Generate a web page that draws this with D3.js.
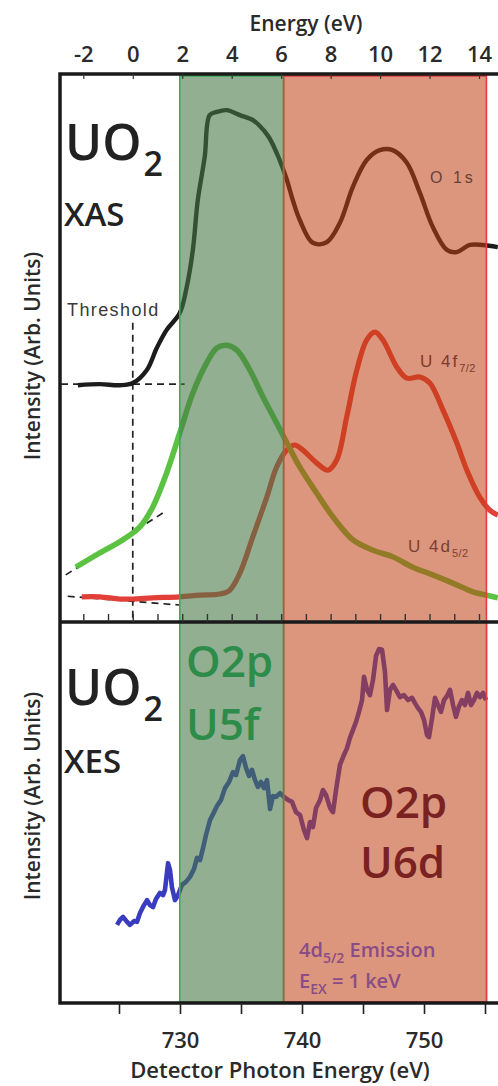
<!DOCTYPE html>
<html>
<head>
<meta charset="utf-8">
<script src="https://cdn.jsdelivr.net/npm/d3@7"></script>
<style>
  body { margin: 0; background: #fff; }
  svg { display: block; }
  .lbl { font-family: "Open Sans", sans-serif; font-weight: 600; }
  .small { font-family: "Liberation Sans", Arial, sans-serif; }
</style>
</head>
<body>
<svg width="498" height="1086"></svg>
<script>
// ---- data (top panel: incident energy in eV vs intensity, arb. units 0-100) ----
var o1sE   = [-2.22,-1.33,-0.53,0,0.57,0.97,1.37,1.9,2.18,2.43,2.63,2.91,3.11,3.4,3.8,4.33,4.85,5.1,5.5,5.94,6.23,6.47,6.75,7.28,7.84,8.37,8.9,9.46,9.99,10.51,11.08,11.61,12.13,12.7,13.1,13.63,14.15,14.76];
var o1sI   = [43.2,43.4,43.2,43.6,46,50,53.3,56.4,61.1,67.9,77,84.9,92.5,93.1,93.4,92.5,91.6,90.7,88.5,84.3,80.7,77,73.4,69.2,69.3,72.8,79.4,84.3,86.1,86.1,83.8,78.3,72.1,67.9,67.5,68.8,68.8,68.4];

var u4dE   = [-2.3,-1.33,-0.4,0.28,0.81,1.37,1.9,2.43,2.99,3.4,3.8,4.21,4.73,5.26,5.82,6.23,6.75,7.44,8.09,8.9,9.71,10.51,11.32,12.13,12.94,13.75,14.31,14.76];
var u4dI   = [10,12.6,15,17.3,21,27.2,34.5,41.8,47.3,50,50.5,49.6,46,41.1,36.3,32.7,28.3,23.5,19.2,15,13.1,11.9,10,8.6,7.1,5.5,4.9,4.4];

var u4fE   = [-2.06,-1.33,-0.53,0,0.81,1.9,2.71,3.52,3.92,4.33,4.85,5.42,5.82,6.23,6.55,6.87,7.44,7.89,8.25,8.65,9.06,9.46,9.79,10.11,10.68,11.08,11.61,12.01,12.54,13.1,13.51,14.03,14.44,14.76];
var u4fI   = [4.6,4.6,4.2,4.2,4.4,4.6,4.9,5.1,5.8,8.9,15.5,22.8,28.3,31.4,32.3,31.4,29,27.7,29.6,37.4,46,51.5,52.9,51.5,46.5,44.5,44.7,43.6,38.7,32.7,27.7,22.8,20.4,19.5];

// threshold construction lines [E1, I1, E2, I2]
var guideLines = [
  [0, 54.6, 0, 0],
  [-2.9, 43.4, 2.1, 43.4],
  [-2.71, 8.6, 1.29, 20.1],
  [-2.63, 4.7, 1.9, 3.1]
];

// ---- data (bottom panel: XES, detector photon energy in eV vs intensity 0-100) ----
var xesE = [724.84,725.08,725.33,725.66,725.9,726.23,726.48,726.72,727.05,727.3,727.54,727.79,728.03,728.36,728.61,728.77,729.02,729.18,729.34,729.59,729.84,730.16,730.49,730.82,731.15,731.39,731.64,731.89,732.13,732.46,732.79,733.03,733.36,733.69,734.02,734.34,734.59,734.92,735.16,735.41,735.66,735.9,736.15,736.39,736.64,736.89,737.13,737.38,737.62,737.87,738.2,738.52,738.85,739.18,739.51,739.84,740.16,740.41,740.66,740.9,741.15,741.48,741.72,741.97,742.3,742.54,742.79,743.11,743.44,743.69,743.93,744.18,744.43,744.67,744.92,745.08,745.33,745.57,745.82,746.07,746.31,746.56,746.8,746.97,747.21,747.46,747.7,748.03,748.36,748.69,749.02,749.26,749.51,749.75,750,750.25,750.41,750.66,750.9,751.15,751.39,751.64,751.89,752.13,752.38,752.62,752.87,753.11,753.36,753.61,753.85,754.1,754.34,754.59,754.84,755.08];
var xesI = [20.5,21.8,22.6,21.3,20.5,21.5,21.3,23.6,25.7,27,25.7,25.2,27.3,28.9,28.3,29.7,36.7,34.9,30.4,27,28.3,31,31.8,33.1,35.2,38.1,37.5,40.7,44.1,48,50.1,51.7,53.3,56.4,58,60.6,59.8,63.8,64.8,61.7,59.6,61.2,58.5,56.7,58,56.4,58.5,50.9,54.3,54.1,55.1,54.1,53.3,52.8,50.1,49.3,45.4,43.3,47.5,46.2,51.2,53.3,55.9,54.6,51.2,50.1,55.9,62.5,65.1,66.9,69.6,71.7,73.8,76.4,79.5,85.6,82.2,80.8,84.8,91.1,92.9,92.7,86.9,76.9,82.2,83.5,82.2,80.3,80.8,79.5,80.1,78.7,77.4,76.4,74.3,70.3,69.8,74.8,80.1,78.2,76.4,79.5,80.6,82.2,78.2,75.1,77.9,79.5,78.2,81.4,78.2,79.5,81.4,80.3,81.4,79.5];

// shaded regions (edges): incident energy (top) and detector energy (bottom)
var bandEdgesTop = [1.9, 6.1, 14.3];
var bandEdgesBottom = [730, 738.6, 755.2];

var topTicks = [-2, 0, 2, 4, 6, 8, 10, 12, 14];
var bottomTicks = [725, 730, 735, 740, 745, 750, 755];
var bottomLabels = [730, 740, 750];

// ---- layout ----
var left = 60, right = 500, top1 = 74, bot1 = 622, bot2 = 1003;

var svg = d3.select("svg");

var xTop = d3.scaleLinear().domain([-2, 14]).range([83.3, 479]);
var yTop = d3.scaleLinear().domain([0, 100]).range([bot1, top1]);
var xBot = d3.scaleLinear().domain([730, 750]).range([180, 424]);
var yBot = d3.scaleLinear().domain([0, 100]).range([bot2, bot1]);

var lineTop = d3.line().x(function(d) { return xTop(d[0]); }).y(function(d) { return yTop(d[1]); }).curve(d3.curveCatmullRom.alpha(0.5));
var lineBot = d3.line().x(function(d) { return xBot(d[0]); }).y(function(d) { return yBot(d[1]); });

function zip(a, b) { return a.map(function(v, i) { return [v, b[i]]; }); }

// guide dashed lines
svg.append("g").selectAll("line")
  .data(guideLines).enter().append("line")
    .attr("x1", function(d) { return xTop(d[0]); })
    .attr("y1", function(d) { return yTop(d[1]); })
    .attr("x2", function(d) { return xTop(d[2]); })
    .attr("y2", function(d) { return yTop(d[3]); })
    .attr("stroke", "#222")
    .attr("stroke-width", 1.7)
    .attr("stroke-dasharray", "7,5");

// curves (drawn below the translucent bands)
svg.append("path").datum(zip(u4fE, u4fI)).attr("d", lineTop)
  .attr("fill", "none").attr("stroke", "#e23f38").attr("stroke-width", 5.2);
svg.append("path").datum(zip(u4dE, u4dI)).attr("d", lineTop)
  .attr("fill", "none").attr("stroke", "#5cc242").attr("stroke-width", 5.6);
svg.append("path").datum(zip(o1sE, o1sI)).attr("d", lineTop)
  .attr("fill", "none").attr("stroke", "#1c1c1c").attr("stroke-width", 4.4);
svg.append("path").datum(zip(xesE, xesI)).attr("d", lineBot)
  .attr("fill", "none").attr("stroke", "#3a3cc0").attr("stroke-width", 4.6)
  .attr("stroke-linejoin", "round");

// translucent bands
var bandStyle = [
  { fill: "rgb(69,119,69)", op: 0.59, stroke: "#3caa5a" },
  { fill: "rgb(191,64,19)", op: 0.55, stroke: "#e63c3c" }
];
[0, 1].forEach(function(i) {
  svg.append("rect")
    .attr("x", xTop(bandEdgesTop[i])).attr("y", top1)
    .attr("width", xTop(bandEdgesTop[i + 1]) - xTop(bandEdgesTop[i]))
    .attr("height", bot1 - top1)
    .attr("fill", bandStyle[i].fill).attr("fill-opacity", bandStyle[i].op);
  svg.append("rect")
    .attr("x", xBot(bandEdgesBottom[i])).attr("y", bot1)
    .attr("width", xBot(bandEdgesBottom[i + 1]) - xBot(bandEdgesBottom[i]))
    .attr("height", bot2 - bot1)
    .attr("fill", bandStyle[i].fill).attr("fill-opacity", bandStyle[i].op);
});
// band outlines (green outline first, red on top)
[0, 1].forEach(function(i) {
  svg.append("rect")
    .attr("x", xTop(bandEdgesTop[i])).attr("y", top1 + 2)
    .attr("width", xTop(bandEdgesTop[i + 1]) - xTop(bandEdgesTop[i]))
    .attr("height", bot2 - top1 - 3)
    .attr("fill", "none").attr("stroke", bandStyle[i].stroke).attr("stroke-width", 1.6);
});

// frame
svg.append("path")
  .attr("d", "M" + right + "," + top1 + "H" + left + "V" + bot2 + "H" + right + "M" + left + "," + bot1 + "H" + right)
  .attr("fill", "none").attr("stroke", "#1a1a1a").attr("stroke-width", 3.5);

// top axis
var axTop = svg.append("g").attr("transform", "translate(0," + top1 + ")")
  .call(d3.axisTop(xTop).tickValues(topTicks).tickSize(-5).tickPadding(12));
axTop.select(".domain").remove();
axTop.selectAll("line").attr("stroke", "#333").attr("stroke-width", 1.2);
axTop.selectAll("text").attr("class", "lbl").attr("font-size", 22).attr("fill", "#2a2a2a")
  .text(function(d) { return d < 0 ? "-" + Math.abs(d) : d; });

// minor ticks at the bottom of the XAS panel
var axMid = svg.append("g").attr("transform", "translate(0," + bot1 + ")")
  .call(d3.axisBottom(xTop).tickValues(d3.range(-2, 15)).tickSize(-8).tickFormat(""));
axMid.select(".domain").remove();
axMid.selectAll("line").attr("stroke", "#333").attr("stroke-width", 1.4);

// bottom axis
var axBot = svg.append("g").attr("transform", "translate(0," + bot2 + ")")
  .call(d3.axisBottom(xBot).tickValues(bottomTicks).tickSize(11).tickPadding(18)
    .tickFormat(function(d) { return bottomLabels.indexOf(d) >= 0 ? d : ""; }));
axBot.select(".domain").remove();
axBot.selectAll("line").attr("stroke", "#222").attr("stroke-width", 1.6);
axBot.selectAll("text").attr("class", "lbl").attr("font-size", 22).attr("fill", "#2a2a2a");

// axis titles
svg.append("text").attr("class", "lbl").attr("font-size", 21).attr("fill", "#2a2a2a")
  .attr("x", 306).attr("y", 31).attr("text-anchor", "middle").text("Energy (eV)");
svg.append("text").attr("class", "lbl").attr("font-size", 22).attr("fill", "#2a2a2a")
  .attr("x", 280).attr("y", 1078).attr("text-anchor", "middle").text("Detector Photon Energy (eV)");
[356, 796].forEach(function(cy) {
  svg.append("text").attr("class", "lbl").attr("font-size", 21).attr("fill", "#2a2a2a")
    .attr("transform", "translate(40," + cy + ") rotate(-90)")
    .attr("text-anchor", "middle").text("Intensity (Arb. Units)");
});

// UO2 titles
function uo2(y, sub, subY) {
  var t = svg.append("text").attr("class", "lbl").attr("font-weight", 700).attr("fill", "#222");
  t.append("tspan").attr("x", 65).attr("y", y).attr("font-size", 50).text("UO");
  t.append("tspan").attr("y", y + 16).attr("dx", 2).attr("font-size", 34).text("2");
  svg.append("text").attr("class", "lbl").attr("font-weight", 700).attr("fill", "#222")
    .attr("x", 64).attr("y", subY).attr("font-size", 33).text(sub);
}
uo2(160, "XAS", 226);
uo2(705, "XES", 773);

// curve labels
svg.append("text").attr("class", "small").attr("font-size", 18).attr("letter-spacing", 1.4)
  .attr("fill", "#3a3a3a").attr("x", 67).attr("y", 316).text("Threshold");
svg.append("text").attr("class", "small").attr("font-size", 16).attr("letter-spacing", 3)
  .attr("fill", "#6a4036").attr("x", 430).attr("y", 183).text("O 1s");
var t4f = svg.append("text").attr("class", "small").attr("fill", "#7a3a30").attr("letter-spacing", 2)
  .attr("x", 420).attr("y", 367).attr("font-size", 17);
t4f.append("tspan").text("U 4f");
t4f.append("tspan").attr("dy", 5).attr("font-size", 11).attr("letter-spacing", 0.5).text("7/2");
var t4d = svg.append("text").attr("class", "small").attr("fill", "#7a4034").attr("letter-spacing", 2)
  .attr("x", 408).attr("y", 552).attr("font-size", 17);
t4d.append("tspan").text("U 4d");
t4d.append("tspan").attr("dy", 5).attr("font-size", 11).attr("letter-spacing", 0.5).text("5/2");

// region labels
function twoLine(x, y1, y2, a, b, col) {
  [[y1, a], [y2, b]].forEach(function(p) {
    svg.append("text").attr("class", "lbl").attr("font-weight", 700).attr("font-size", 44)
      .attr("fill", col).attr("x", x).attr("y", p[0]).text(p[1]);
  });
}
twoLine(186, 677, 740, "O2p", "U5f", "#2e8c4a");
twoLine(360, 818, 878, "O2p", "U6d", "#7a2222");

var em = svg.append("text").attr("class", "lbl").attr("font-size", 20).attr("fill", "#8a4c86")
  .attr("x", 299).attr("y", 957);
em.append("tspan").text("4d");
em.append("tspan").attr("dy", 6).attr("font-size", 14).text("5/2");
em.append("tspan").attr("dy", -6).text(" Emission");
var ex = svg.append("text").attr("class", "lbl").attr("font-size", 20).attr("fill", "#8a4c86")
  .attr("x", 299).attr("y", 988);
ex.append("tspan").text("E");
ex.append("tspan").attr("dy", 6).attr("font-size", 14).text("EX");
ex.append("tspan").attr("dy", -6).text(" = 1 keV");
</script>
</body>
</html>
